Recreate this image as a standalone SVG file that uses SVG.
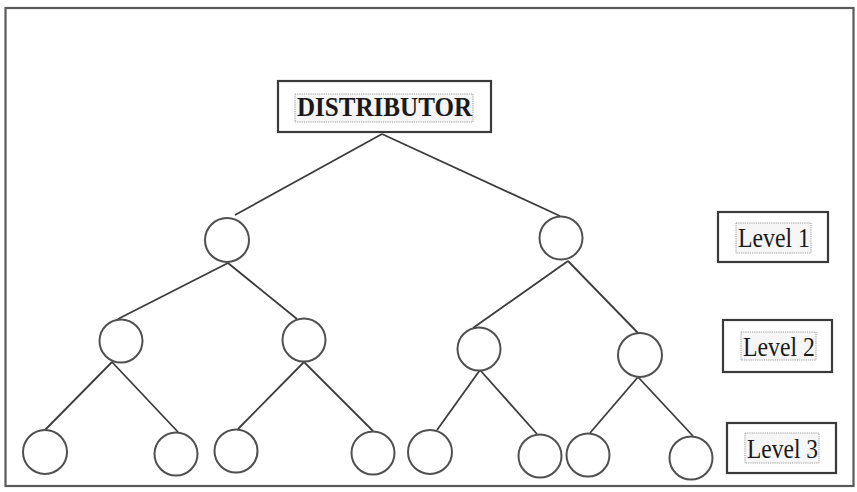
<svg xmlns="http://www.w3.org/2000/svg" width="857" height="492" viewBox="0 0 857 492">
<style>
.frame{fill:none;stroke:#5a5a5a;stroke-width:2.2}
.box{fill:#fff;stroke:#3a3a3a;stroke-width:2.2}
.hl{fill:#f6f6f6;stroke:#9a9a9a;stroke-width:1;stroke-dasharray:1.2 1}
.node{fill:#fff;stroke:#505050;stroke-width:2}
.edge{stroke:#3c3c3c;stroke-width:1.8;fill:none}
.t{font-family:"Liberation Serif","Times New Roman",serif;fill:#1a1a1a}
</style>
<rect x="0" y="0" width="857" height="492" fill="#fff"/>
<rect class="frame" x="5.5" y="8" width="848" height="478"/>
<g id="connectors">
<line class="edge" x1="382" y1="134" x2="235" y2="215"/>
<line class="edge" x1="382" y1="134" x2="560" y2="216"/>
<line class="edge" x1="228" y1="263" x2="118" y2="319"/>
<line class="edge" x1="228" y1="263" x2="297" y2="319"/>
<line class="edge" x1="568" y1="261" x2="473" y2="328"/>
<line class="edge" x1="568" y1="261" x2="638" y2="333"/>
<line class="edge" x1="112" y1="362" x2="45" y2="430"/>
<line class="edge" x1="112" y1="362" x2="178" y2="432"/>
<line class="edge" x1="304" y1="362" x2="238" y2="429"/>
<line class="edge" x1="304" y1="362" x2="373" y2="431"/>
<line class="edge" x1="480" y1="370" x2="437" y2="430"/>
<line class="edge" x1="480" y1="370" x2="537" y2="434"/>
<line class="edge" x1="638" y1="377" x2="590" y2="433"/>
<line class="edge" x1="638" y1="377" x2="693" y2="436"/>
</g>
<g id="distributor">
<rect class="box" x="278" y="81" width="213" height="51"/>
<rect class="hl" x="295" y="94" width="178" height="28"/>
<text class="t" x="297" y="116" font-size="27" font-weight="bold" textLength="175" lengthAdjust="spacingAndGlyphs">DISTRIBUTOR</text>
</g>
<g id="l1a"><circle class="node" cx="227" cy="240" r="22"/></g>
<g id="l1b"><circle class="node" cx="561" cy="238" r="21.5"/></g>
<g id="l2a"><circle class="node" cx="121" cy="341" r="21.5"/></g>
<g id="l2b"><circle class="node" cx="304" cy="340" r="21.5"/></g>
<g id="l2c"><circle class="node" cx="479" cy="349" r="21.5"/></g>
<g id="l2d"><circle class="node" cx="640" cy="355" r="22"/></g>
<g id="l3a"><circle class="node" cx="45" cy="452" r="22"/></g>
<g id="l3b"><circle class="node" cx="176" cy="454" r="21.5"/></g>
<g id="l3c"><circle class="node" cx="236" cy="451" r="21.5"/></g>
<g id="l3d"><circle class="node" cx="373" cy="453" r="21.5"/></g>
<g id="l3e"><circle class="node" cx="430" cy="452" r="22"/></g>
<g id="l3f"><circle class="node" cx="540" cy="456" r="21.5"/></g>
<g id="l3g"><circle class="node" cx="588" cy="455" r="21.5"/></g>
<g id="l3h"><circle class="node" cx="691" cy="458" r="21.5"/></g>
<g id="level1">
<rect class="box" x="718" y="212" width="110" height="50"/>
<rect class="hl" x="736" y="223" width="75" height="30"/>
<text class="t" x="738" y="247" font-size="28" textLength="72" lengthAdjust="spacingAndGlyphs">Level 1</text>
</g>
<g id="level2">
<rect class="box" x="723" y="320" width="109" height="52"/>
<rect class="hl" x="741" y="332" width="75" height="28"/>
<text class="t" x="743" y="356" font-size="28" textLength="72" lengthAdjust="spacingAndGlyphs">Level 2</text>
</g>
<g id="level3">
<rect class="box" x="727" y="423" width="109" height="50"/>
<rect class="hl" x="745" y="433" width="74" height="30"/>
<text class="t" x="747" y="458" font-size="28" textLength="71" lengthAdjust="spacingAndGlyphs">Level 3</text>
</g>
</svg>
